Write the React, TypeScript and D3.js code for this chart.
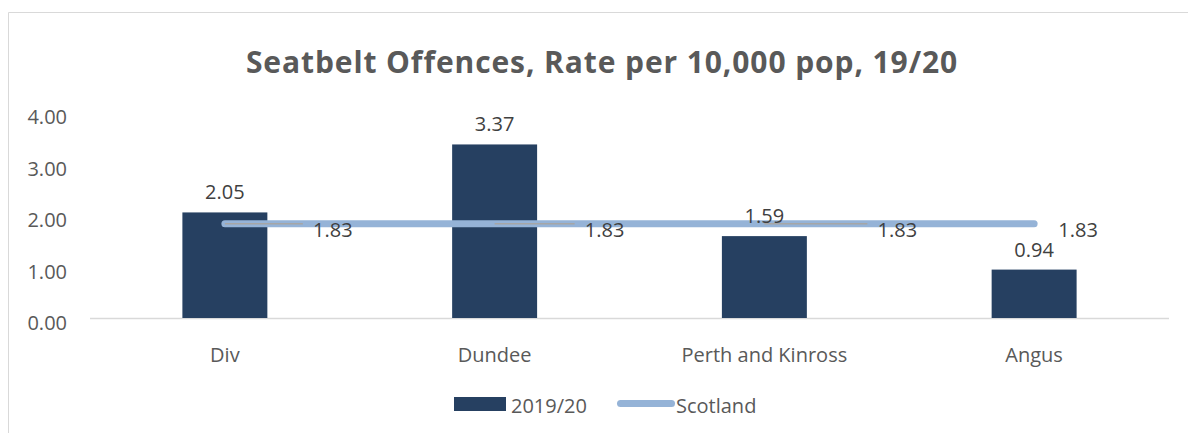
import React from "react";
import * as d3 from "d3";

const categories = ["Div", "Dundee", "Perth and Kinross", "Angus"];
const values2019 = [2.05, 3.37, 1.59, 0.94];
const scotland = [1.83, 1.83, 1.83, 1.83];
const yTicks = [0, 1, 2, 3, 4];
const title = "Seatbelt Offences, Rate per 10,000 pop, 19/20";
const seriesNames = ["2019/20", "Scotland"];

// layout for manually placed line labels (horizontal offsets from point)
const lineLabelDx = [108, 110, 133, 44];

const W = 1188;
const H = 433;
const FONT = "'Open Sans', sans-serif";
const BAR = "#264061";
const LINE = "#95B3D7";
const TXT = "#595959";
const LBL = "#404040";

export default function App() {
  const x = d3
    .scaleBand<string>()
    .domain(categories)
    .range([90, 1169])
    .paddingInner(0.685)
    .paddingOuter(0.3425);
  const y = d3.scaleLinear().domain([0, 4]).range([318, 112]);
  const cx = (c: string) => (x(c) as number) + x.bandwidth() / 2;

  const line = d3
    .line<number>()
    .x((_, i) => cx(categories[i]))
    .y((d) => y(d));

  return (
    <svg
      width={W}
      height={H}
      style={{ position: "absolute", left: 0, top: 0, background: "#fff" }}
      fontFamily={FONT}
    >
      <rect x={0} y={0} width={W} height={H} fill="#fff" />
      <line x1={8.5} y1={12.5} x2={W} y2={12.5} stroke="#D9D9D9" strokeWidth={1} />
      <line x1={8.5} y1={12.5} x2={8.5} y2={H} stroke="#D9D9D9" strokeWidth={1} />

      <text
        x={602}
        y={73}
        textAnchor="middle"
        fontSize={30}
        fontWeight="bold"
        letterSpacing={0.9}
        fill={TXT}
      >
        {title}
      </text>

      {yTicks.map((t) => (
        <text key={t} x={67} y={y(t) + 12} textAnchor="end" fontSize={20} fill={TXT}>
          {d3.format(".2f")(t)}
        </text>
      ))}

      <line x1={90} x2={1169} y1={y(0) + 0.5} y2={y(0) + 0.5} stroke="#D9D9D9" strokeWidth={1.5} />

      {categories.map((c, i) => (
        <rect
          key={c}
          x={x(c)}
          y={y(values2019[i])}
          width={x.bandwidth()}
          height={y(0) - y(values2019[i])}
          fill={BAR}
        />
      ))}

      {categories.map((c) => (
        <text key={c} x={cx(c)} y={362} textAnchor="middle" fontSize={20} fill={TXT}>
          {c}
        </text>
      ))}

      <path
        d={line(scotland) || ""}
        fill="none"
        stroke={LINE}
        strokeWidth={7}
        strokeLinecap="round"
      />

      {categories.map((c, i) => {
        const px = cx(c);
        const lx = px + lineLabelDx[i];
        const end = lx - 30;
        return end - px > 20 ? (
          <line
            key={c}
            x1={px}
            x2={end}
            y1={y(scotland[i])}
            y2={y(scotland[i])}
            stroke="#A6A6A6"
            strokeWidth={1.5}
          />
        ) : null;
      })}

      {categories.map((c, i) => (
        <text
          key={c}
          x={cx(c)}
          y={y(values2019[i]) - 13}
          textAnchor="middle"
          fontSize={20}
          fill={LBL}
        >
          {d3.format(".2f")(values2019[i])}
        </text>
      ))}

      {categories.map((c, i) => (
        <text
          key={c}
          x={cx(c) + lineLabelDx[i]}
          y={y(scotland[i]) + 13.5}
          textAnchor="middle"
          fontSize={20}
          fill={LBL}
        >
          {d3.format(".2f")(scotland[i])}
        </text>
      ))}

      <rect x={454} y={397} width={52} height={14} fill={BAR} />
      <text x={511} y={413} fontSize={20} fill={TXT}>
        {seriesNames[0]}
      </text>
      <line x1={620.5} x2={671.5} y1={403.5} y2={403.5} stroke={LINE} strokeWidth={7} strokeLinecap="round" />
      <text x={676} y={413} fontSize={20} fill={TXT}>
        {seriesNames[1]}
      </text>
    </svg>
  );
}
